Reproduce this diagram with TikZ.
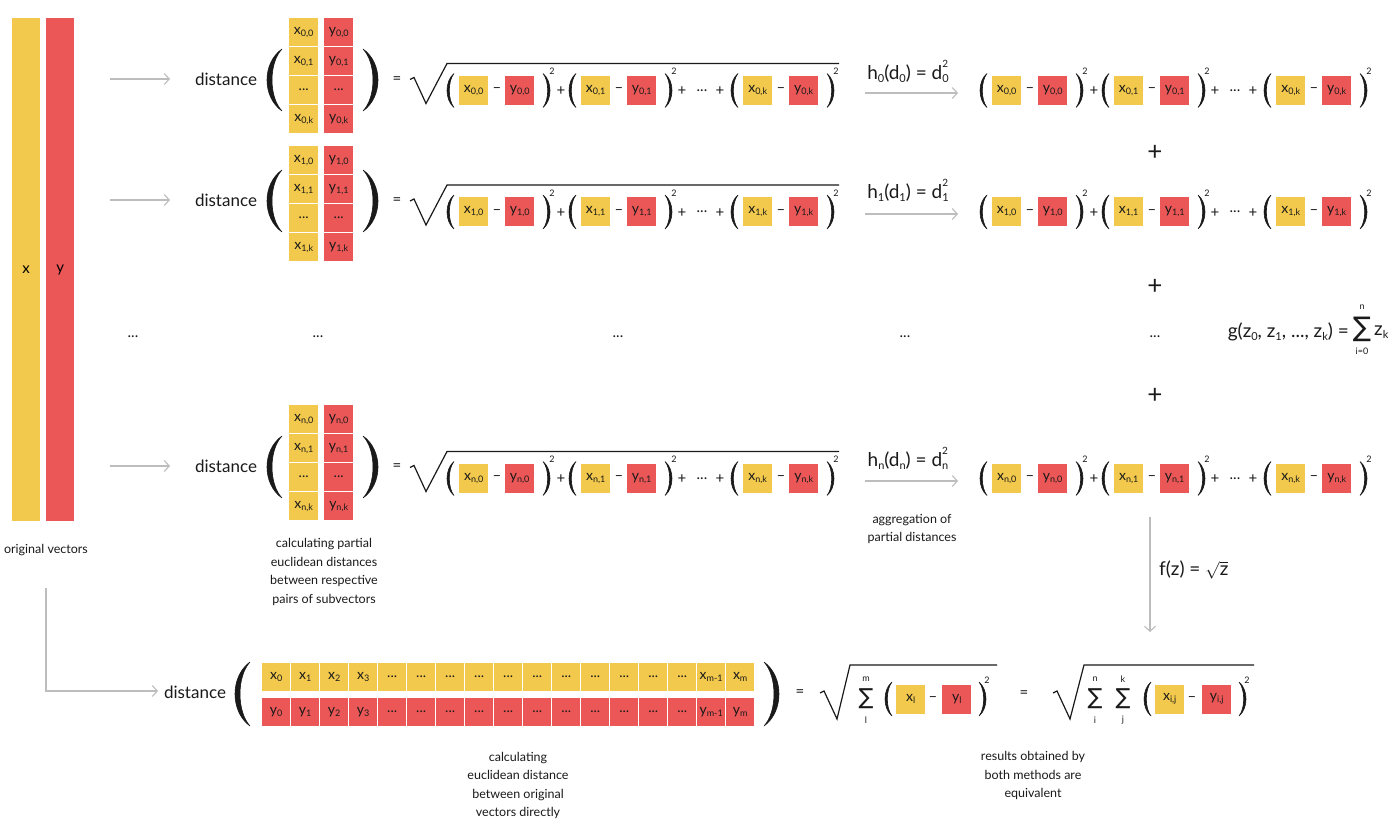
\documentclass[tikz,border=0pt]{standalone}
\usepackage{fontspec}
\setmainfont{Lato}
\newfontfamily\symf{DejaVu Sans}
\usetikzlibrary{arrows.meta}
\definecolor{cy}{HTML}{F2C94C}
\definecolor{cr}{HTML}{EB5757}
\definecolor{ag}{HTML}{BDBDBD}
\definecolor{ink}{HTML}{1A1A1A}
\newcommand\sbs[1]{\raisebox{-0.3ex}{\fontsize{9}{9}\selectfont #1}}
\newcommand\sbx[1]{\raisebox{-0.3ex}{\fontsize{11}{11}\selectfont #1}}
\newcommand\ssx[2]{\rlap{\raisebox{1.25ex}{\fontsize{10}{10}\selectfont #1}}\raisebox{-0.3ex}{\fontsize{11}{11}\selectfont #2}}
\newcommand\parL[5]{\filldraw[ink,line width=0.6pt,line join=round] ({#1},{#2-#3}) .. controls ({#1-4/3*#4},{#2-0.55*#3}) and ({#1-4/3*#4},{#2+0.55*#3}) .. ({#1},{#2+#3}) .. controls ({#1-4/3*(#4-#5)},{#2+0.55*#3}) and ({#1-4/3*(#4-#5)},{#2-0.55*#3}) .. cycle;}
\newcommand\parR[5]{\filldraw[ink,line width=0.6pt,line join=round] ({#1},{#2-#3}) .. controls ({#1+4/3*#4},{#2-0.55*#3}) and ({#1+4/3*#4},{#2+0.55*#3}) .. ({#1},{#2+#3}) .. controls ({#1+4/3*(#4-#5)},{#2+0.55*#3}) and ({#1+4/3*(#4-#5)},{#2-0.55*#3}) .. cycle;}
\begin{document}
\begin{tikzpicture}[x=1pt,y=-1pt,
  cell/.style={inner sep=0pt, minimum width=29pt, minimum height=28pt, font=\fontsize{14}{14}\selectfont, text=ink, anchor=north west},
  ycl/.style={cell, fill=cy}, rcl/.style={cell, fill=cr},
  tb/.style={inner sep=0pt, minimum width=29pt, minimum height=29pt, font=\fontsize{14}{14}\selectfont, text=ink, anchor=west},
  ytb/.style={tb, fill=cy}, rtb/.style={tb, fill=cr},
  arr/.style={draw=ag, line width=1.1pt, -{Straight Barb[length=5pt,width=11pt]}},
  sq/.style={draw=ink, line width=1.2pt, line join=miter},
  lbl/.style={inner sep=0pt, text=ink, font=\fontsize{17}{17}\selectfont},
  glbl/.style={inner sep=0pt, text=ink, font=\fontsize{19}{19}\selectfont},
  sm/.style={inner sep=0pt, text=ink, font=\fontsize{9}{9}\selectfont},
  captxt/.style={inner sep=0pt, align=center, text=ink, font=\fontsize{12.5}{18.5}\selectfont},
  op/.style={inner sep=0pt, text=ink, font=\fontsize{15}{15}\selectfont},
  bigop/.style={inner sep=0pt, text=ink, font=\fontsize{26}{26}\selectfont},
  sumg/.style={inner sep=0pt, text=ink, font=\symf\fontsize{27}{27}\selectfont},
  sumb/.style={inner sep=0pt, text=ink, font=\symf\fontsize{22}{22}\selectfont},
]
\useasboundingbox[fill=white] (0,0) rectangle (1400,826);

% original vectors
\node[fill=cy, minimum width=28pt, minimum height=503pt, inner sep=0pt, anchor=north west, font=\fontsize{15}{15}\selectfont] (xbar) at (12,18) {x};
\node[fill=cr, minimum width=28pt, minimum height=503pt, inner sep=0pt, anchor=north west, font=\fontsize{15}{15}\selectfont] (ybar) at (46,18) {y};
\node[captxt] (origcap) at (46,550) {original vectors};

% three rows
\foreach \r/\T/\D/\Y/\LY/\AY in {0/18/79/90.5/71/93, 1/146/200/212/190/214, n/405/466/478.5/458/481} {
  \coordinate (la\r) at (110,\D);
  \coordinate (lb\r) at (170,\D);
  \draw[arr] (la\r) -- (lb\r);
  \node[lbl] (dist\r) at (226,\D) {distance};
  \parL{282}{\D+1}{31}{15}{5}
  \parR{363}{\D+1}{31}{15}{5}
  \node[ycl] (mx\r-0) at (289,\T) {x\sbs{\r,0}};
  \node[ycl] (mx\r-1) at (289,{\T+29}) {x\sbs{\r,1}};
  \node[ycl] (mx\r-2) at (289,{\T+58}) {...};
  \node[ycl] (mx\r-3) at (289,{\T+87}) {x\sbs{\r,k}};
  \node[rcl] (my\r-0) at (324,\T) {y\sbs{\r,0}};
  \node[rcl] (my\r-1) at (324,{\T+29}) {y\sbs{\r,1}};
  \node[rcl] (my\r-2) at (324,{\T+58}) {...};
  \node[rcl] (my\r-3) at (324,{\T+87}) {y\sbs{\r,k}};
  \node[op] (eq\r) at (397,{\D+1}) {=};
  \draw[sq] (410,{\Y-11}) -- (414,{\Y-13}) -- (426,{\Y+13}) -- (447,{\Y-27}) -- (839,{\Y-27});
  \foreach \off/\sd in {0/L,533/R} {
    \foreach \X/\j in {459/0,581/1,743/k} {
      \pgfmathsetmacro\xx{\X+\off}
      \parL{\xx-5}{\Y}{17}{7}{2.3}
      \node[ytb] (t\sd\r\j x) at (\xx,\Y) {x\sbs{\r,\j}};
      \node[op] (t\sd\r\j m) at ({\xx+38},\Y) {--};
      \node[rtb] (t\sd\r\j y) at ({\xx+46},\Y) {y\sbs{\r,\j}};
      \parR{\xx+84}{\Y}{17}{7}{2.3}
      \node[sm] (t\sd\r\j s) at ({\xx+93},{\Y-19}) {2};
    }
    \node[op] (p\sd\r a) at ({\off+561},{\Y+1}) {+};
    \node[op] (p\sd\r b) at ({\off+682},{\Y+1}) {+};
    \node[op] (p\sd\r d) at ({\off+702},\Y) {...};
    \node[op] (p\sd\r c) at ({\off+720},{\Y+1}) {+};
  }
  \coordinate (ha\r) at (865,\AY);
  \coordinate (hb\r) at (958,\AY);
  \draw[arr] (ha\r) -- (hb\r);
  \node[glbl] (h\r) at (908,\LY) {h\sbx{\r}(d\sbx{\r}) = d\ssx{2}{\r}};
}

% middle dots
\node[op] (dA) at (133,337) {...};
\node[op] (dB) at (318,337) {...};
\node[op] (dC) at (618,337) {...};
\node[op] (dD) at (905,337) {...};
\node[op] (dE) at (1155,337) {...};
\node[bigop] (plA) at (1155,153) {+};
\node[bigop] (plB) at (1155,287) {+};
\node[bigop] (plC) at (1155,396) {+};

% g function
\node[glbl, anchor=east] (g) at (1349,332) {g(z\sbx{0}, z\sbx{1}, ..., z\sbx{k}) =};
\node[sumg] (gsum) at (1362,329) {∑};
\node[sm] (gn) at (1362,307) {n};
\node[sm] (gi) at (1362,351) {i=0};
\node[glbl, anchor=west] (gz) at (1374,332) {z\sbx{k}};

\node[captxt] (aggcap) at (912,529) {aggregation of\\partial distances};
\node[captxt] (partcap) at (324,572) {calculating partial\\euclidean distances\\between respective\\pairs of subvectors};

% f arrow
\coordinate (fa) at (1150,517);
\coordinate (fb) at (1150,632);
\draw[arr] (fa) -- (fb);
\node[glbl, anchor=west] (f) at (1159,570) {f(z) = $\sqrt{\mbox{z}}$};

% connector from original vectors
\coordinate (oa) at (46,588);
\coordinate (ob) at (158,691);
\draw[arr] (oa) |- (ob);

% bottom row
\node[lbl] (distB) at (195,692) {distance};
\parL{250}{694}{32}{15}{5}
\parR{764}{694}{32}{15}{5}
\foreach \c in {0,1,2,3} {
  \node[ycl, minimum width=28pt] (bx\c) at ({262+29*\c},663) {x\sbs{\c}};
  \node[rcl, minimum width=28pt] (by\c) at ({262+29*\c},698) {y\sbs{\c}};
}
\foreach \c in {4,...,14} {
  \node[ycl, minimum width=28pt] (bx\c) at ({262+29*\c},663) {...};
  \node[rcl, minimum width=28pt] (by\c) at ({262+29*\c},698) {...};
}
\node[ycl, minimum width=28pt] (bx15) at (697,663) {x\sbs{m-1}};
\node[rcl, minimum width=28pt] (by15) at (697,698) {y\sbs{m-1}};
\node[ycl, minimum width=28pt] (bx16) at (726,663) {x\sbs{m}};
\node[rcl, minimum width=28pt] (by16) at (726,698) {y\sbs{m}};

\node[op] (beq1) at (800,693) {=};
\draw[sq] (820,693) -- (824,691) -- (837,719) -- (850,665) -- (997,665);
\node[sumb] (bs1) at (866,699) {∑};
\node[sm] (bs1t) at (866,679) {m};
\node[sm] (bs1b) at (866,720) {l};
\parL{892}{699}{17}{7}{2.3}
\node[ytb] (bxl) at (896,699) {x\sbs{l}};
\node[op] (bm1) at (933,699) {--};
\node[rtb] (byl) at (942,699) {y\sbs{l}};
\parR{979}{699}{17}{7}{2.3}
\node[sm] (bsq1) at (987,680) {2};

\node[op] (beq2) at (1024,694) {=};
\draw[sq] (1053,693) -- (1057,691) -- (1070,719) -- (1084,665) -- (1254,665);
\node[sumb] (bs2) at (1095,699) {∑};
\node[sm] (bs2t) at (1095,679) {n};
\node[sm] (bs2b) at (1095,720) {i};
\node[sumb] (bs3) at (1123,699) {∑};
\node[sm] (bs3t) at (1123,679) {k};
\node[sm] (bs3b) at (1123,720) {j};
\parL{1151}{699}{17}{7}{2.3}
\node[ytb] (bxij) at (1155,699) {x\sbs{i,j}};
\node[op] (bm2) at (1192,699) {--};
\node[rtb] (byij) at (1202,699) {y\sbs{i,j}};
\parR{1239}{699}{17}{7}{2.3}
\node[sm] (bsq2) at (1247,680) {2};

\node[captxt] (botcap) at (518,785.5) {calculating\\euclidean distance\\between original\\vectors directly};
\node[captxt] (rescap) at (1033,775.5) {results obtained by\\both methods are\\equivalent};
\end{tikzpicture}
\end{document}
